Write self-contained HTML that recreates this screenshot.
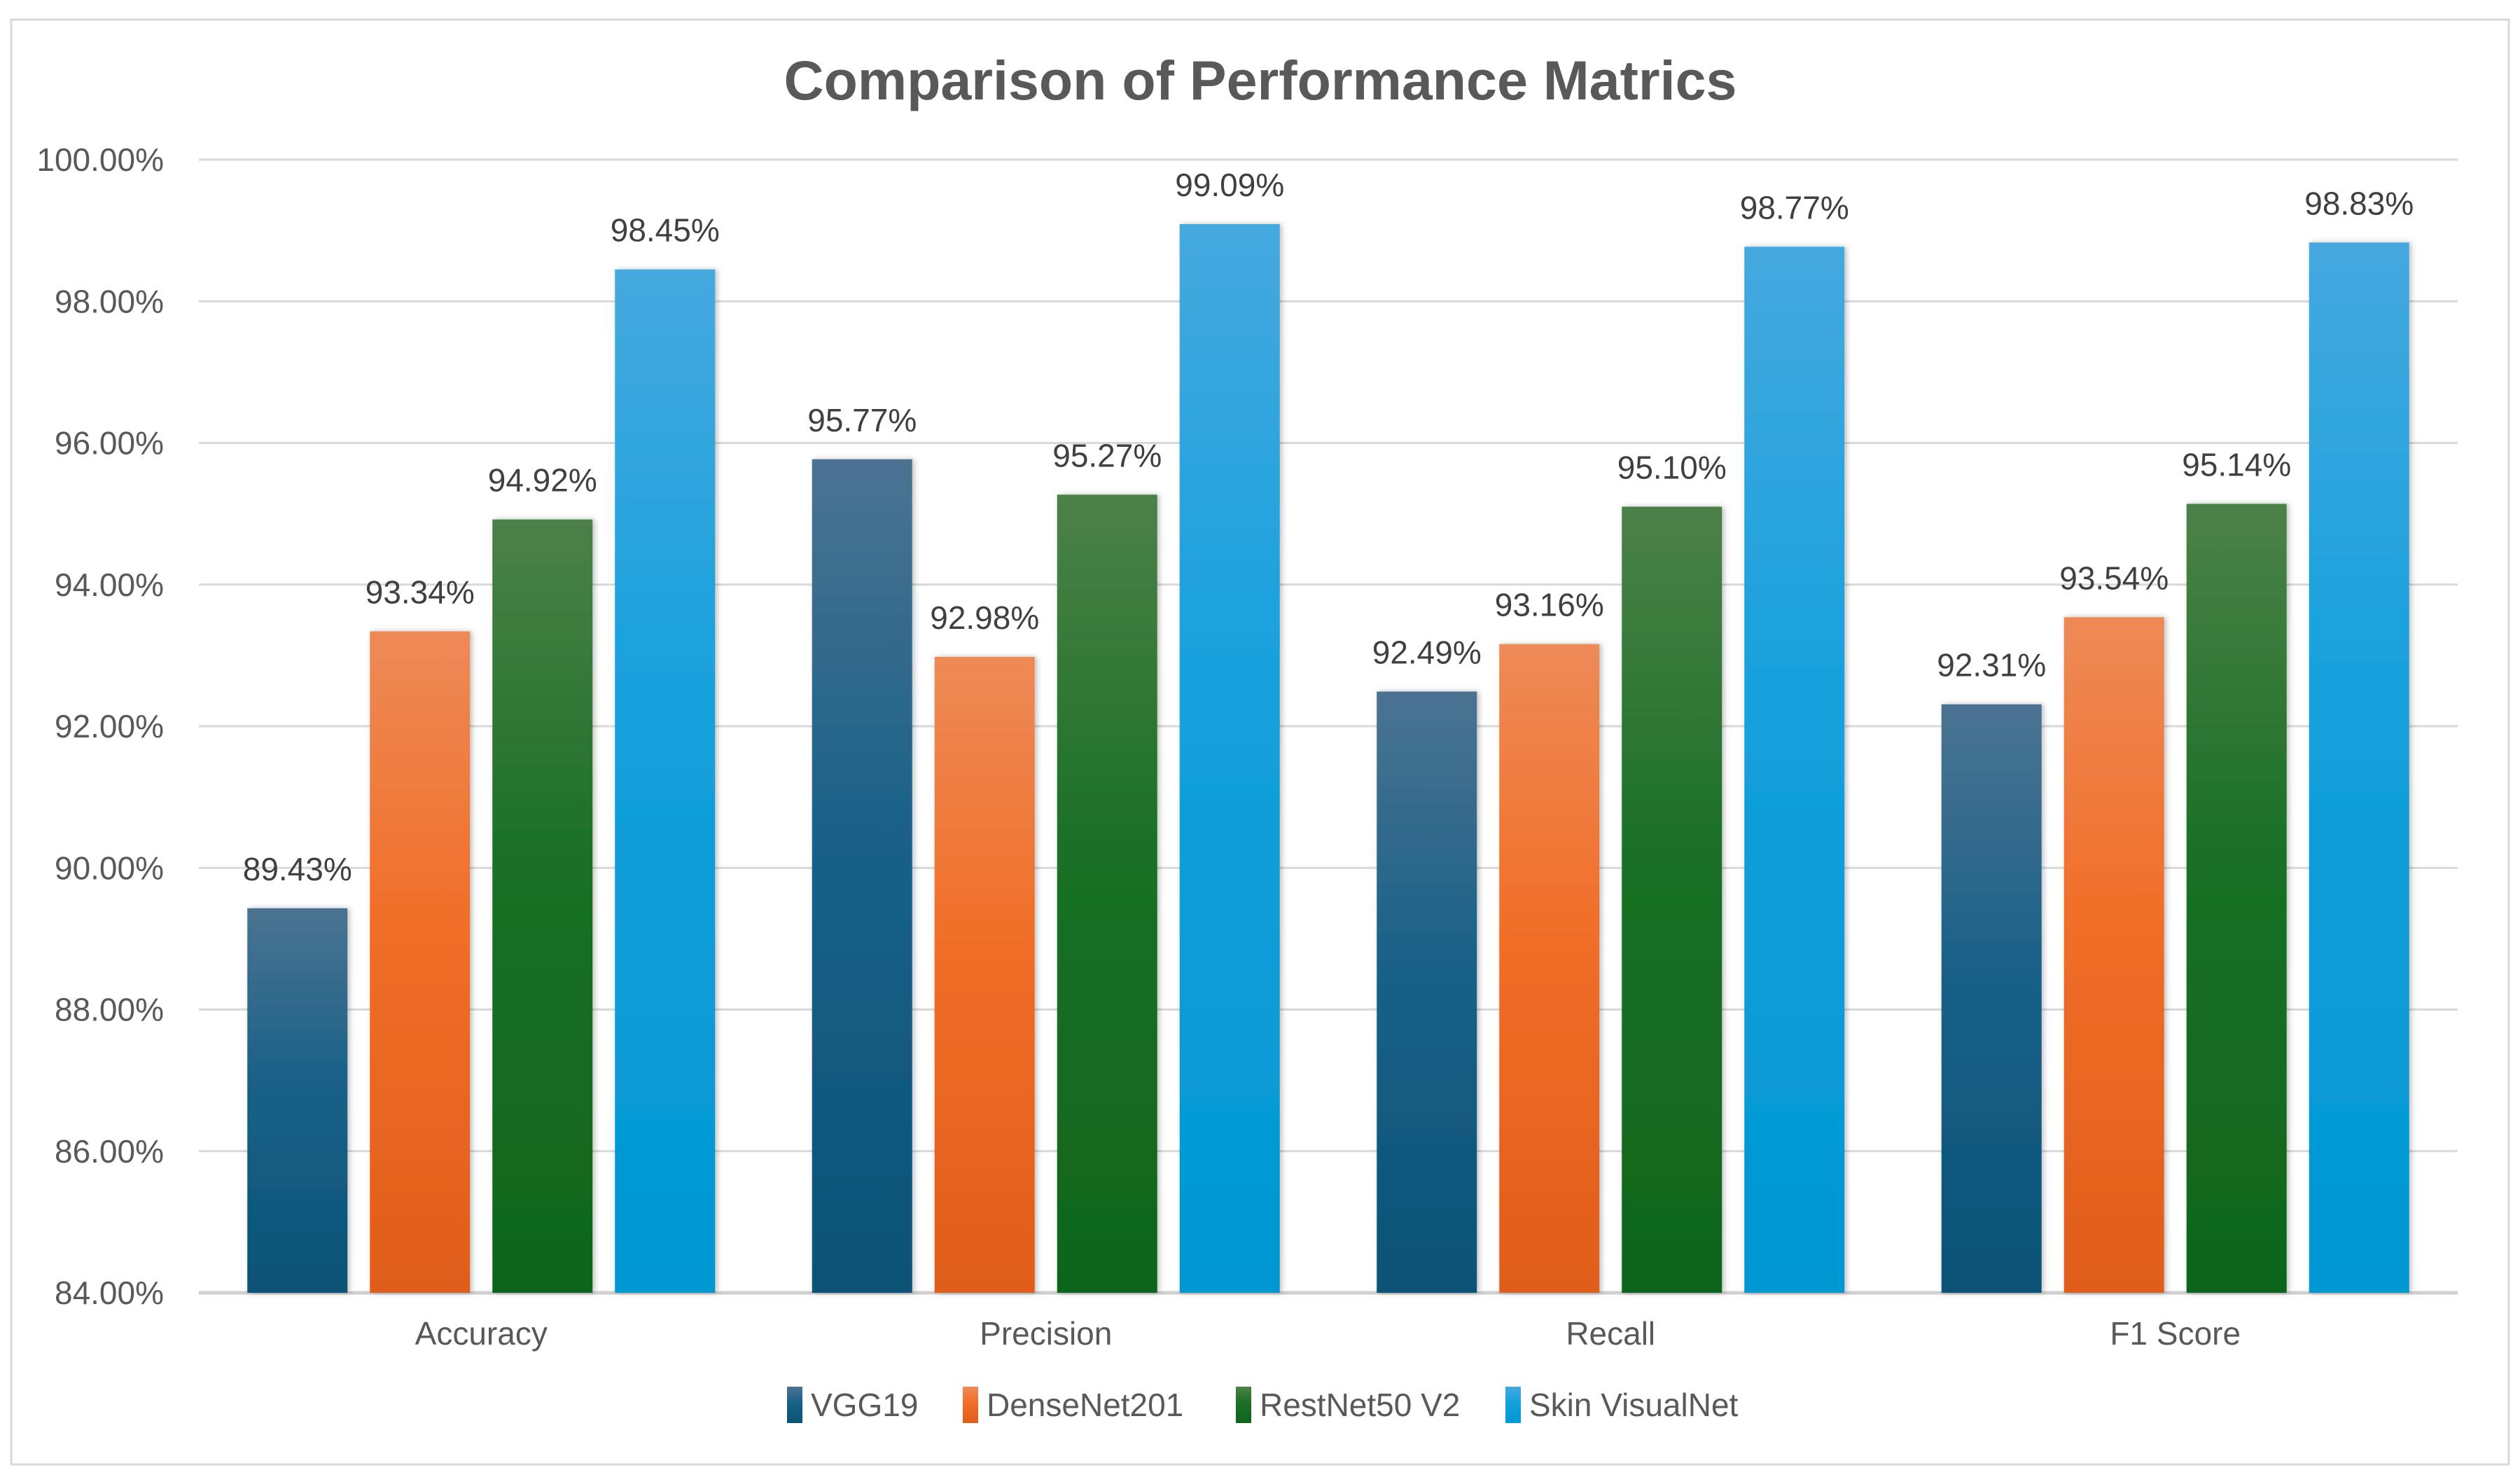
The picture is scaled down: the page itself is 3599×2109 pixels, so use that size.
<!DOCTYPE html>
<html><head><meta charset="utf-8"><style>
html,body{margin:0;padding:0;background:#fff;}
svg text{font-family:"Liberation Sans",Arial,sans-serif;}
</style></head><body>
<svg width="3599" height="2104" viewBox="0 0 3599 2104" xmlns="http://www.w3.org/2000/svg">
<defs>
<linearGradient id="g0" x1="0" y1="0" x2="0" y2="1"><stop offset="0" stop-color="#4b7391"/><stop offset="0.45" stop-color="#1a6188"/><stop offset="1" stop-color="#0a5276"/></linearGradient>
<linearGradient id="g1" x1="0" y1="0" x2="0" y2="1"><stop offset="0" stop-color="#ee8a58"/><stop offset="0.45" stop-color="#f06e28"/><stop offset="1" stop-color="#e05d1b"/></linearGradient>
<linearGradient id="g2" x1="0" y1="0" x2="0" y2="1"><stop offset="0" stop-color="#4c8148"/><stop offset="0.45" stop-color="#1a7025"/><stop offset="1" stop-color="#0f651c"/></linearGradient>
<linearGradient id="g3" x1="0" y1="0" x2="0" y2="1"><stop offset="0" stop-color="#45a9df"/><stop offset="0.45" stop-color="#14a0dc"/><stop offset="1" stop-color="#0097d3"/></linearGradient>
<filter id="sh" x="-20%" y="-5%" width="140%" height="110%"><feDropShadow dx="3" dy="0" stdDeviation="4" flood-color="#000" flood-opacity="0.25"/></filter>
</defs>
<rect x="16" y="28" width="3567" height="2063" fill="#fff" stroke="#d9d9d9" stroke-width="3"/>
<text x="1800" y="142" font-size="79" font-weight="bold" fill="#595959" text-anchor="middle">Comparison of Performance Matrics</text>
<g id="grid"></g>
<g id="yaxis"></g>
<g id="bars"></g>
<g id="xaxis"></g>
<g id="legend"></g>
</svg>
<script>
const categories = ["Accuracy","Precision","Recall","F1 Score"];
const seriesNames = ["VGG19","DenseNet201","RestNet50 V2","Skin VisualNet"];
const vgg19 = [89.43, 95.77, 92.49, 92.31];
const densenet201 = [93.34, 92.98, 93.16, 93.54];
const restnet50v2 = [94.92, 95.27, 95.10, 95.14];
const skinVisualNet = [98.45, 99.09, 98.77, 98.83];
const yTicks = [84, 86, 88, 90, 92, 94, 96, 98, 100];
const yTickLabels = ["84.00%","86.00%","88.00%","90.00%","92.00%","94.00%","96.00%","98.00%","100.00%"];

const NS = "http://www.w3.org/2000/svg";
const series = [vgg19, densenet201, restnet50v2, skinVisualNet];
const L = 284, R = 3510, T = 228, B = 1846, yMin = 84, yMax = 100;
const y = v => B - (v - yMin) / (yMax - yMin) * (B - T);
const gw = (R - L) / categories.length;
const x = (ci, si) => L + gw * (ci + 0.5) + (si - 1.5) * 175;
const bw = 143;
function mk(tag, attrs, parent) { const e = document.createElementNS(NS, tag); for (const k in attrs) e.setAttribute(k, attrs[k]); parent.appendChild(e); return e; }

const grid = document.getElementById('grid'), yax = document.getElementById('yaxis');
yTicks.forEach((t, i) => {
  const ln = mk('line', {x1: L, x2: R, y1: y(t), y2: y(t), stroke: i === 0 ? '#d0d0d0' : '#d9d9d9', 'stroke-width': i === 0 ? 5 : 3}, grid);
  
  
  const tx = mk('text', {x: 234, y: y(t) + 16, 'font-size': 46, fill: '#595959', 'text-anchor': 'end'}, yax);
  tx.textContent = yTickLabels[i];
  
  
});

const bars = document.getElementById('bars');
series.forEach((vals, si) => {
  vals.forEach((v, ci) => {
    const r = mk('rect', {x: x(ci, si) - bw / 2, y: y(v), width: bw, height: B - y(v), fill: 'url(#g' + si + ')', filter: 'url(#sh)'}, bars);
    
    
    const lb = mk('text', {x: x(ci, si), y: y(v) - 40, 'font-size': 46, fill: '#404040', 'text-anchor': 'middle'}, bars);
    lb.textContent = v.toFixed(2) + '%';
    
    
  });
});

const xax = document.getElementById('xaxis');
categories.forEach((c, ci) => {
  const t = mk('text', {x: L + gw * (ci + 0.5), y: 1920, 'font-size': 46, fill: '#595959', 'text-anchor': 'middle'}, xax);
  t.textContent = c;
  
  
});

const leg = document.getElementById('legend');
const legX = [1124, 1375, 1765, 2150];
seriesNames.forEach((n, i) => {
  const g = mk('g', {}, leg);
  
  
  mk('rect', {x: legX[i], y: 1980, width: 22, height: 52, fill: 'url(#g' + i + ')'}, g);
  const t = mk('text', {x: legX[i] + 34, y: 2022, 'font-size': 46, fill: '#595959'}, g);
  t.textContent = n;
});
</script>
</body></html>
